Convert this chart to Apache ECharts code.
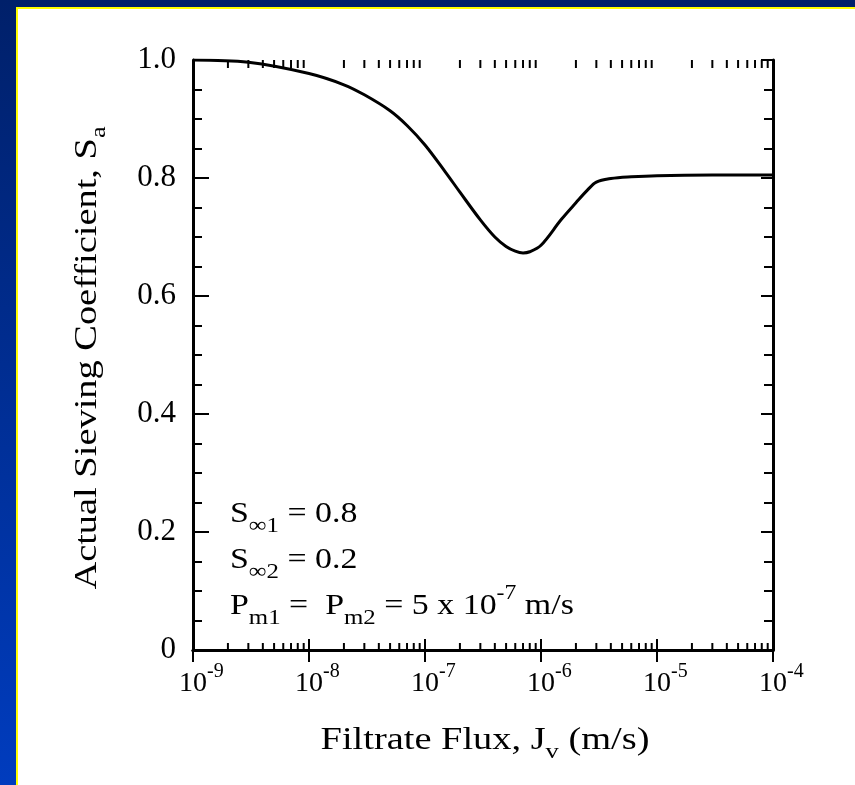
<!DOCTYPE html>
<html>
<head>
<meta charset="utf-8">
<script src="https://cdn.jsdelivr.net/npm/echarts@6/dist/echarts.min.js"></script>
<style>
  html, body { margin: 0; padding: 0; }
  #bg { position: absolute; left: 0; top: 0; width: 855px; height: 785px;
        background: linear-gradient(to bottom, #00206a, #003cbe); }
  #panel { position: absolute; left: 16px; top: 7px; width: 837px; height: 776px;
           background: #fff; border-left: 2px solid #ffff00; border-top: 2px solid #ffff00; }
  #chart { position: absolute; left: 0; top: 0; width: 855px; height: 785px; }
</style>
</head>
<body>
<div id="bg"></div>
<div id="panel"></div>
<div id="chart"></div>
<script>
// filtrate flux (m/s) and actual sieving coefficient
const flux = [1e-9, 3e-9, 1e-8, 2e-8, 3e-8, 5e-8, 7e-8, 1e-7, 1.5e-7, 2e-7, 3e-7, 4e-7, 5e-7,
              6e-7, 7e-7, 8e-7, 1e-6, 1.5e-6, 2e-6, 2.5e-6, 3e-6, 4e-6, 6e-6, 1e-5, 3e-5, 1e-4]
const sieving = [1.0, 0.996, 0.977, 0.958, 0.941, 0.914, 0.889, 0.856, 0.81, 0.776, 0.729, 0.700, 0.684,
                 0.676, 0.673, 0.675, 0.686, 0.73, 0.758, 0.779, 0.793, 0.799, 0.802, 0.804, 0.805, 0.805]

// axis ticks
const yTicks = [0, 0.2, 0.4, 0.6, 0.8, 1.0]
const decades = [-9, -8, -7, -6, -5]
const minorMultipliers = [2, 3, 4, 5, 6, 7, 8, 9]

const serif = '"Liberation Serif", "Times New Roman", serif'

const minorTicks = []
decades.forEach(d => minorMultipliers.forEach(m => minorTicks.push([m * Math.pow(10, d), 0])))

const chart = echarts.init(document.getElementById('chart'), null, { renderer: 'canvas' })

const axisLine = { lineStyle: { color: '#000', width: 3 } }
const subStyle = size => ({ fontSize: size, lineHeight: size, verticalAlign: 'bottom', fontFamily: serif, fill: '#000', color: '#000' })
const supStyle = size => ({ fontSize: size, lineHeight: size, verticalAlign: 'top', fontFamily: serif, fill: '#000', color: '#000' })

chart.setOption({
    backgroundColor: 'transparent',
    animation: false,
    grid: { left: 193, right: 82, top: 60, bottom: 135 },
    xAxis: [{
        type: 'log',
        logBase: 10,
        min: 1e-9,
        max: 1e-4,
        position: 'bottom',
        axisLine: axisLine,
        axisTick: { inside: true, length: 11, lineStyle: { color: '#000', width: 2 } },
        splitLine: { show: false },
        axisLabel: {
            margin: 12,
            color: '#000',
            fontFamily: serif,
            fontSize: 28,
            lineHeight: 44,
            formatter: v => {
                const e = Math.round(Math.log10(v))
                return '{pad|' + e + '}10{sup|' + e + '}'
            },
            rich: {
                sup: supStyle(20),
                pad: Object.assign(supStyle(20), { color: 'rgba(0,0,0,0)' })
            }
        }
    }, {
        type: 'log',
        logBase: 10,
        min: 1e-9,
        max: 1e-4,
        position: 'top',
        axisLine: axisLine,
        axisTick: { inside: true, length: 12, lineStyle: { color: '#000', width: 2 } },
        splitLine: { show: false },
        axisLabel: { show: false }
    }],
    yAxis: [{
        type: 'value',
        min: 0,
        max: 1,
        interval: 0.2,
        position: 'left',
        axisLine: axisLine,
        axisTick: { inside: true, length: 16, lineStyle: { color: '#000', width: 2 } },
        minorTick: { show: true, splitNumber: 4, length: 9, lineStyle: { color: '#000', width: 2 } },
        splitLine: { show: false },
        axisLabel: {
            margin: 17,
            color: '#000',
            fontFamily: serif,
            fontSize: 31,
            formatter: v => (v === 0 ? '0' : v.toFixed(1))
        }
    }, {
        type: 'value',
        min: 0,
        max: 1,
        interval: 0.2,
        position: 'right',
        axisLine: axisLine,
        axisTick: { inside: true, length: 12, lineStyle: { color: '#000', width: 2 } },
        minorTick: { show: true, splitNumber: 4, length: 9, lineStyle: { color: '#000', width: 2 } },
        splitLine: { show: false },
        axisLabel: { show: false }
    }],
    graphic: [{
        // y axis title
        type: 'text',
        x: 88,
        y: 358,
        rotation: Math.PI / 2,
        scaleX: 1.2,
        style: {
            text: 'Actual Sieving Coefficient, S{sub|a}',
            font: '32px ' + serif,
            fill: '#000',
            align: 'center',
            verticalAlign: 'middle',
            lineHeight: 44,
            rich: { sub: subStyle(22) }
        }
    }, {
        // x axis title
        type: 'text',
        x: 485,
        y: 741,
        scaleX: 1.2,
        style: {
            text: 'Filtrate Flux, J{sub|v} (m/s)',
            font: '32px ' + serif,
            fill: '#000',
            align: 'center',
            verticalAlign: 'middle',
            lineHeight: 44,
            rich: { sub: subStyle(22) }
        }
    }, {
        type: 'text',
        x: 230,
        y: 491,
        scaleX: 1.13,
        style: {
            text: 'S{sub|∞1} = 0.8\nS{sub|∞2} = 0.2\nP{sub|m1} =  P{sub|m2} = 5 x 10{sup|-7} m/s',
            font: '30px ' + serif,
            fill: '#000',
            lineHeight: 46,
            rich: {
                sub: subStyle(22),
                sup: supStyle(21)
            }
        }
    }],
    series: [{
        type: 'line',
        xAxisIndex: 0,
        yAxisIndex: 0,
        data: flux.map((x, i) => [x, sieving[i]]),
        smooth: 0.35,
        showSymbol: false,
        lineStyle: { color: '#000', width: 3 },
        z: 3
    }, {
        // minor log ticks on bottom and top axes
        type: 'custom',
        xAxisIndex: 0,
        yAxisIndex: 0,
        silent: true,
        clip: false,
        data: minorTicks,
        renderItem: (params, api) => {
            const bottom = api.coord([api.value(0), 0])
            const top = api.coord([api.value(0), 1])
            const style = { stroke: '#000', lineWidth: 2 }
            return {
                type: 'group',
                children: [
                    { type: 'line', shape: { x1: bottom[0], y1: bottom[1], x2: bottom[0], y2: bottom[1] - 7 }, style },
                    { type: 'line', shape: { x1: top[0], y1: top[1], x2: top[0], y2: top[1] + 8 }, style }
                ]
            }
        }
    }]
})
</script>
</body>
</html>
